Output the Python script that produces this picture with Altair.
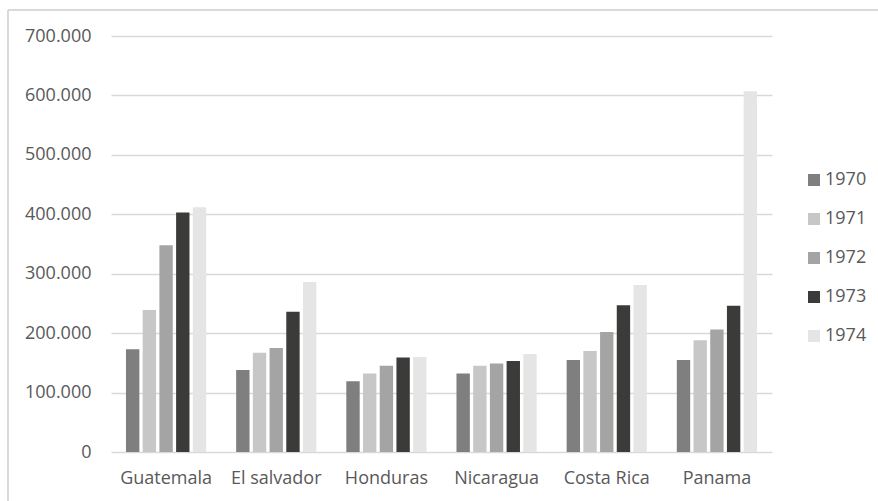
import altair as alt
import pandas as pd

countries = ["Guatemala", "El salvador", "Honduras", "Nicaragua", "Costa Rica", "Panama"]
years = ["1970", "1971", "1972", "1973", "1974"]
v1970 = [173000, 138000, 119000, 132000, 155000, 155000]
v1971 = [239000, 167000, 132000, 145000, 170000, 188000]
v1972 = [348000, 175000, 145000, 149000, 202000, 206000]
v1973 = [403000, 236000, 159000, 153000, 247000, 246000]
v1974 = [412000, 286000, 160000, 165000, 281000, 607000]
colors = ["#7f7f7f", "#c6c7c6", "#a3a4a3", "#3b3b39", "#e4e5e4"]

series = [v1970, v1971, v1972, v1973, v1974]
rows = []
for y, vals in zip(years, series):
    for c, v in zip(countries, vals):
        rows.append({"country": c, "year": y, "value": v})
df = pd.DataFrame(rows)

FONT = "Open Sans"
TXT = "#595959"
GRID = "#d9d9d9"

bars = alt.Chart(df).mark_bar().encode(
    x=alt.X("country:N", sort=countries, title=None,
            scale=alt.Scale(paddingInner=0.272, paddingOuter=0.136),
            axis=alt.Axis(labelAngle=0, domain=False, ticks=False, grid=False, labelPadding=17,
                          labelFontSize=18, labelColor=TXT, labelFont=FONT)),
    xOffset=alt.XOffset("year:N", sort=years,
                        scale=alt.Scale(paddingInner=0.2, paddingOuter=0)),
    y=alt.Y("value:Q", title=None,
            scale=alt.Scale(domain=[0, 700000], nice=False),
            axis=alt.Axis(values=[0, 100000, 200000, 300000, 400000, 500000, 600000, 700000],
                          labelExpr="replace(format(datum.value, ',d'), ',', '.')",
                          domain=False, ticks=False, labelPadding=20,
                          labelFontSize=18, labelColor=TXT, labelFont=FONT,
                          grid=True, gridColor=GRID, gridWidth=1.5)),
    color=alt.Color("year:N", sort=years,
                    scale=alt.Scale(domain=years, range=colors),
                    legend=alt.Legend(title=None, orient="none", legendX=694, legendY=135,
                                      symbolType="square", symbolSize=144,
                                      symbolStrokeWidth=0, symbolOpacity=1,
                                      labelFontSize=18, labelColor=TXT, labelFont=FONT,
                                      labelOffset=2, rowPadding=21, padding=0)),
)

border_top = alt.Chart(df).mark_rule(color="#d9d9d9", strokeWidth=1).encode(
    x=alt.value(-103), x2=alt.value(767), y=alt.value(-26))
border_left = alt.Chart(df).mark_rule(color="#d9d9d9", strokeWidth=1).encode(
    x=alt.value(-103), y=alt.value(-26), y2=alt.value(465))

chart = alt.layer(bars, border_top, border_left).properties(
    width=661, height=416,
    background="white",
    autosize=alt.AutoSizeParams(type="none"),
    padding={"left": 111, "top": 36, "right": 106, "bottom": 49},
).configure_view(stroke=None)

chart.save("out.html", embed_options={"renderer": "svg", "actions": False})
